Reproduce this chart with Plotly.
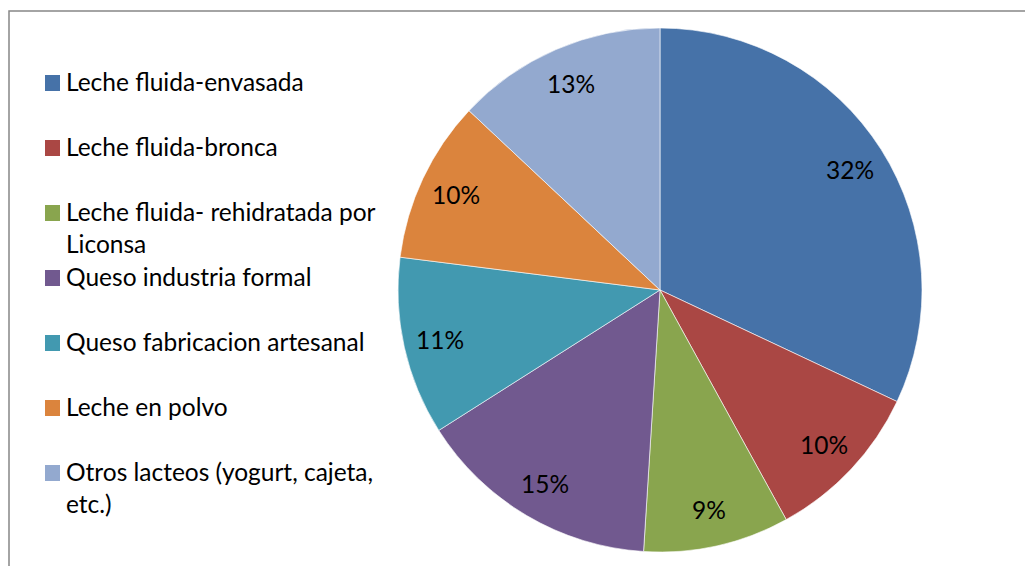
import math
import plotly.graph_objects as go

categories = [
    "Leche fluida-envasada",
    "Leche fluida-bronca",
    "Leche fluida- rehidratada por Liconsa",
    "Queso industria formal",
    "Queso fabricacion artesanal",
    "Leche en polvo",
    "Otros lacteos (yogurt, cajeta, etc.)",
]
legend_labels = [
    "Leche fluida-envasada",
    "Leche fluida-bronca",
    "Leche fluida- rehidratada por<br>Liconsa",
    "Queso industria formal",
    "Queso fabricacion artesanal",
    "Leche en polvo",
    "Otros lacteos (yogurt, cajeta,<br>etc.)",
]
values = [32, 10, 9, 15, 11, 10, 13]
colors = ["#4672A8", "#AA4744", "#89A54E", "#71598F", "#4299B0", "#DB843D", "#93A9CF"]

W, H = 1025, 566
cx, cy, R = 660, 290, 262
FONT = "Lato"
FS = 24.5

fig = go.Figure()
fig.add_trace(go.Pie(
    labels=categories,
    values=values,
    sort=False,
    direction="clockwise",
    rotation=0,
    marker=dict(colors=colors, line=dict(color="#ffffff", width=0.6)),
    textinfo="none",
    hoverinfo="label+percent",
    showlegend=False,
    domain=dict(x=[(cx - R) / W, (cx + R) / W], y=[1 - (cy + R) / H, 1 - (cy - R) / H]),
))

annotations = []
total = sum(values)
cum = 0
for v in values:
    mid = (cum + v / 2) / total * 2 * math.pi
    cum += v
    r = 0.86 * R
    px = cx + r * math.sin(mid)
    py = cy - r * math.cos(mid)
    annotations.append(dict(
        x=px / W, y=1 - py / H, xref="paper", yref="paper",
        text=f"{round(v / total * 100)}%", showarrow=False,
        font=dict(family=FONT, size=FS, color="#000000"),
        xanchor="center", yanchor="middle",
    ))

shapes = []
leg_top = 83
leg_gap = 65
for i, (lab, col) in enumerate(zip(legend_labels, colors)):
    yc = leg_top + i * leg_gap
    shapes.append(dict(
        type="rect", xref="paper", yref="paper",
        x0=45 / W, x1=60 / W, y0=1 - (yc + 8) / H, y1=1 - (yc - 8) / H,
        fillcolor=col, line=dict(width=0),
    ))
    annotations.append(dict(
        x=64 / W, y=1 - (yc - 18) / H, xref="paper", yref="paper",
        text=lab, showarrow=False, align="left",
        font=dict(family=FONT, size=FS, color="#000000"),
        xanchor="left", yanchor="top",
    ))

shapes.append(dict(
    type="rect", xref="paper", yref="paper",
    x0=9 / W, x1=1.02, y0=-0.03, y1=1 - 11 / H,
    line=dict(color="#878787", width=1.5), fillcolor="rgba(0,0,0,0)",
))

fig.update_layout(
    width=W, height=H,
    margin=dict(l=0, r=0, t=0, b=0),
    paper_bgcolor="#ffffff",
    plot_bgcolor="#ffffff",
    annotations=annotations,
    shapes=shapes,
    showlegend=False,
)

fig.write_html(
    "out.html",
    config={"displayModeBar": False},
    post_script="document.body.style.margin='0px';",
)
